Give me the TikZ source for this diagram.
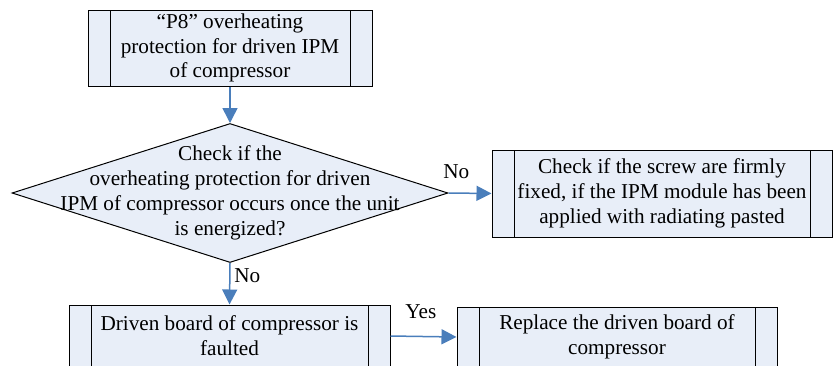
\documentclass[tikz,border=0pt]{standalone}
\usepackage{fontspec}
\setmainfont{Liberation Serif}
\usetikzlibrary{arrows.meta,positioning,calc,shapes.geometric}
\definecolor{fcFill}{HTML}{E8EEF8}
\definecolor{fcLine}{HTML}{4A7EBB}
\tikzset{
  procbox/.style={draw=black, line width=0.5pt, fill=fcFill, align=center, inner sep=0pt,
    path picture={\draw[line width=0.5pt]
      ([xshift=11pt]path picture bounding box.north west) -- ([xshift=11pt]path picture bounding box.south west)
      ([xshift=-11pt]path picture bounding box.north east) -- ([xshift=-11pt]path picture bounding box.south east);}},
  decbox/.style={diamond, draw=black, line width=0.5pt, fill=fcFill, inner sep=0pt},
  flow/.style={-{Triangle[length=7.5pt,width=7.5pt]}, fcLine, line width=0.75pt},
  flowlbl/.style={text=black}
}

\begin{document}
\begin{tikzpicture}[x=0.5pt, y=-0.5pt, every node/.style={font=\fontsize{10.6}{12.4}\selectfont}]
  \useasboundingbox (0,0) rectangle (833,365);
  \clip (0,0) rectangle (833,365);
  \node[procbox, minimum width=142pt, minimum height=38pt] (prot) at (230,48)
    {``P8'' overheating\\protection for driven IPM\\of compressor};
  \node[decbox, minimum width=218pt, minimum height=69.5pt] (chk) at (230,193) {};
  \node[align=center] (chktxt) at (chk.center)
    {Check if the\\overheating protection for driven\\IPM of compressor occurs once the unit\\is energized?};
  \node[procbox, minimum width=170pt, minimum height=43.5pt] (screw) at (662,193.5)
    {Check if the screw are firmly\\fixed, if the IPM module has been\\applied with radiating pasted};
  \node[procbox, minimum width=160.5pt, minimum height=31pt] (board) at (229.5,336)
    {Driven board of compressor is\\faulted};
  \node[procbox, minimum width=160pt, minimum height=30pt] (repl) at (617,337)
    {Replace the driven board of\\compressor};
  \draw[flow] (prot.south) -- (chk.north);
  \draw[flow] (chk.east) -- node[flowlbl, pos=0.18, above=3.5pt] (noA) {No} (screw.west);
  \draw[flow] (chk.south) -- node[flowlbl, pos=0.3, right=-1.5pt] (noB) {No} (board.north);
  \draw[flow] (board.east) -- node[flowlbl, pos=0.46, above=5pt] (yes) {Yes} (repl.west);
\end{tikzpicture}
\end{document}
